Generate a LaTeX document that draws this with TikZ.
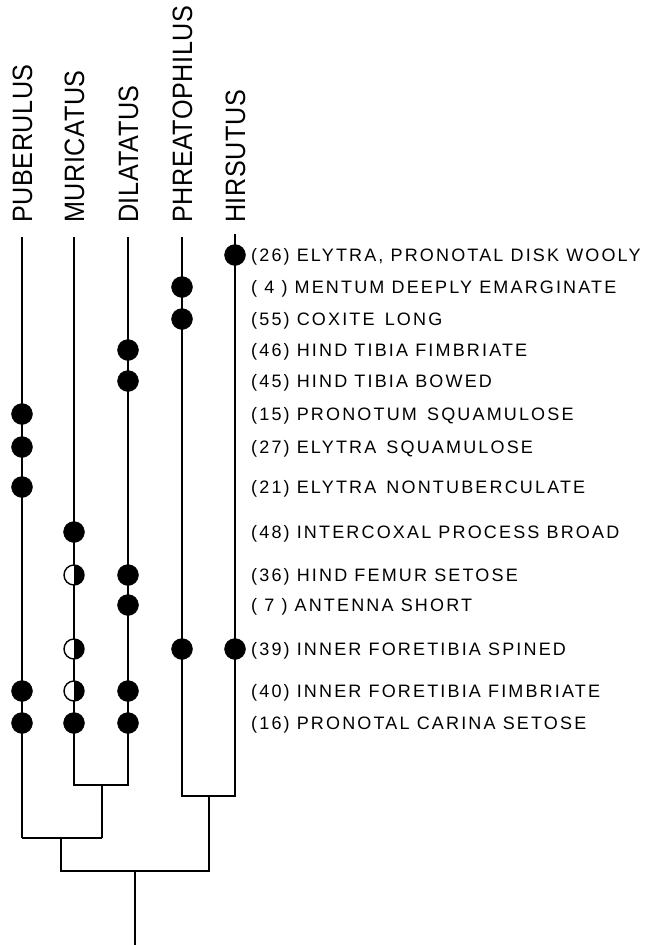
\documentclass[tikz,border=0pt]{standalone}
\usepackage{fontspec}
\setmainfont{Liberation Sans}
\newfontfamily\rowfont[LetterSpace=12]{Liberation Sans}
\newfontfamily\spfont[FakeStretch=0.9,LetterSpace=2]{Liberation Sans}
\begin{document}
\begin{tikzpicture}[x=1bp,y=-1bp,
  branch/.style={line width=1.3bp,black},
  full/.style={circle,fill=black,draw=black,inner sep=0pt,minimum size=21bp},
  half/.style={circle,fill=white,draw=black,line width=1.4bp,inner sep=0pt,minimum size=20bp,
    path picture={\fill[black] (path picture bounding box.north) rectangle (path picture bounding box.south east);}},
  rowlab/.style={anchor=base west,inner sep=0pt,font=\rowfont\fontsize{18bp}{20bp}\selectfont},
  splab/.style={anchor=base west,rotate=90,inner sep=0pt,font=\spfont\fontsize{28bp}{30bp}\selectfont}]
\useasboundingbox (0,0) rectangle (647,945);
% species columns
\def\xP{22}\def\xM{74}\def\xD{128}\def\xPh{182}\def\xH{235}
% top ends
\coordinate (tP) at (\xP,237);
\coordinate (tM) at (\xM,237);
\coordinate (tD) at (\xD,237);
\coordinate (tPh) at (\xPh,237);
\coordinate (tH) at (\xH,234);
% joins
\coordinate (bP) at (\xP,838);
\coordinate (bM) at (\xM,785);
\coordinate (bD) at (\xD,785);
\coordinate (bPh) at (\xPh,796);
\coordinate (bH) at (\xH,796);
\coordinate (jMD) at (102,785);
\coordinate (jMDb) at (102,838);
\coordinate (jPMD) at (61,838);
\coordinate (jPMDb) at (61,871);
\coordinate (jPH) at (209,796);
\coordinate (jPHb) at (209,871);
\coordinate (jR) at (135,871);
\coordinate (root) at (135,945);
% species labels
\node[splab] (nP) at (\xP+10,223) {PUBERULUS};
\node[splab] (nM) at (\xM+10,223) {MURICATUS};
\node[splab] (nD) at (\xD+10,223) {DILATATUS};
\node[splab] (nPh) at (\xPh+10,223) {PHREATOPHILUS};
\node[splab] (nH) at (\xH+10,223) {HIRSUTUS};
% branches
\draw[branch] (tP) -- (bP);
\draw[branch] (tM) -- (bM) -- (bD) -- (tD);
\draw[branch] (tPh) -- (bPh) -- (bH) -- (tH);
\draw[branch] (jMD) -- (jMDb);
\draw[branch] (bP) -- (jMDb);
\draw[branch] (jPMD) -- (jPMDb) -- (jPHb) -- (jPH);
\draw[branch] (jR) -- (root);
% row y values
\def\ya{255}\def\yb{287}\def\yc{319}\def\yd{350}\def\ye{381}\def\yf{414}\def\yg{447}
\def\yh{487}\def\yi{532}\def\yj{575}\def\yk{605}\def\yl{649}\def\ym{691}\def\yn{723}
% character state labels
\node[rowlab] (l26) at (251,\ya+6) {(26) ELYTRA, PRONOTAL DISK WOOLY};
\node[rowlab] (l4)  at (251,\yb+6) {( 4 ) MENTUM DEEPLY EMARGINATE};
\node[rowlab] (l55) at (251,\yc+6) {(55) COXITE\, LONG};
\node[rowlab] (l46) at (251,\yd+6) {(46) HIND TIBIA FIMBRIATE};
\node[rowlab] (l45) at (251,\ye+6) {(45) HIND TIBIA BOWED};
\node[rowlab] (l15) at (251,\yf+6) {(15) PRONOTUM\, SQUAMULOSE};
\node[rowlab] (l27) at (251,\yg+6) {(27) ELYTRA\, SQUAMULOSE};
\node[rowlab] (l21) at (251,\yh+6) {(21) ELYTRA\, NONTUBERCULATE};
\node[rowlab] (l48) at (251,\yi+6) {(48) INTERCOXAL PROCESS BROAD};
\node[rowlab] (l36) at (251,\yj+6) {(36) HIND FEMUR SETOSE};
\node[rowlab] (l7)  at (251,\yk+6) {( 7 ) ANTENNA SHORT};
\node[rowlab] (l39) at (251,\yl+6) {(39) INNER FORETIBIA SPINED};
\node[rowlab] (l40) at (251,\ym+6) {(40) INNER FORETIBIA FIMBRIATE};
\node[rowlab] (l16) at (251,\yn+6) {(16) PRONOTAL CARINA SETOSE};
% Hirsutus
\node[full] (h26) at (\xH,\ya) {};
\node[full] (h39) at (\xH,\yl) {};
% Phreatophilus
\node[full] (ph4) at (\xPh,\yb) {};
\node[full] (ph55) at (\xPh,\yc) {};
\node[full] (ph39) at (\xPh,\yl) {};
% Dilatatus
\node[full] (d46) at (\xD,\yd) {};
\node[full] (d45) at (\xD,\ye) {};
\node[full] (d36) at (\xD,\yj) {};
\node[full] (d7) at (\xD,\yk) {};
\node[full] (d40) at (\xD,\ym) {};
\node[full] (d16) at (\xD,\yn) {};
% Muricatus
\node[full] (m48) at (\xM,\yi) {};
\node[half] (m36) at (\xM,\yj) {};
\node[half] (m39) at (\xM,\yl) {};
\node[half] (m40) at (\xM,\ym) {};
\node[full] (m16) at (\xM,\yn) {};
% Puberulus
\node[full] (p15) at (\xP,\yf) {};
\node[full] (p27) at (\xP,\yg) {};
\node[full] (p21) at (\xP,\yh) {};
\node[full] (p40) at (\xP,\ym) {};
\node[full] (p16) at (\xP,\yn) {};
\end{tikzpicture}
\end{document}
